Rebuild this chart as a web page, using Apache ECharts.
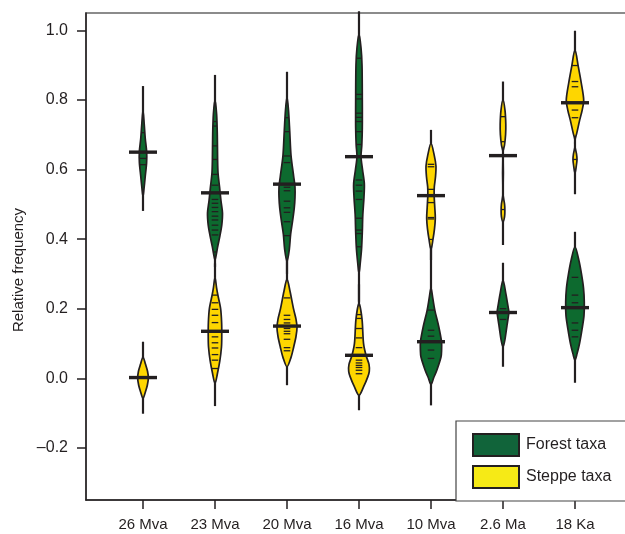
<!DOCTYPE html>
<html>
<head>
<meta charset="utf-8">
<script src="https://cdn.jsdelivr.net/npm/echarts@6/dist/echarts.min.js"></script>
<style>
  html, body { margin: 0; padding: 0; background: #fff; }
  #chart { width: 625px; height: 534px; }
</style>
</head>
<body>
<div id="chart"></div>
<script>
// categories and tick labels
const categories = ['26 Mva', '23 Mva', '20 Mva', '16 Mva', '10 Mva', '2.6 Ma', '18 Ka'];
const yTicks = [-0.2, 0, 0.2, 0.4, 0.6, 0.8, 1.0];

// medians (thick bars)
const forestMedian = [0.650, 0.533, 0.558, 0.637, 0.105, 0.189, 0.203];
const steppeMedian = [0.002, 0.135, 0.150, 0.066, 0.525, 0.640, 0.792];

// full range of each bean [min, max]
const forestRange = [[0.481, 0.840], [0.32, 0.872], [0.30, 0.881], [0.22, 1.055], [-0.078, 0.40], [0.033, 0.332], [-0.013, 0.421]];
const steppeRange = [[-0.102, 0.105], [-0.08, 0.33], [-0.02, 0.34], [-0.092, 0.27], [0.34, 0.714], [0.383, 0.853], [0.529, 0.999]];

// single observations (bean lines)
const forestObs = [
  [0.706, 0.632, 0.614],
  [0.738, 0.725, 0.668, 0.629, 0.586, 0.555, 0.514, 0.503, 0.491, 0.479, 0.466, 0.455, 0.440, 0.426, 0.412, 0.363],
  [0.749, 0.709, 0.639, 0.620, 0.549, 0.539, 0.509, 0.490, 0.477, 0.450, 0.410],
  [0.920, 0.816, 0.803, 0.762, 0.750, 0.738, 0.709, 0.672, 0.570, 0.555, 0.538, 0.514, 0.460, 0.426, 0.416, 0.378],
  [0.196, 0.138, 0.121, 0.081, 0.057],
  [0.200, 0.169],
  [0.290, 0.239, 0.217, 0.159, 0.138, 0.119]
];
const steppeObs = [
  [],
  [0.239, 0.217, 0.198, 0.181, 0.160, 0.119, 0.102, 0.087, 0.068, 0.052, 0.028],
  [0.231, 0.181, 0.169, 0.159, 0.143, 0.135, 0.128, 0.112, 0.088, 0.079],
  [0.183, 0.172, 0.143, 0.116, 0.088, 0.052, 0.044, 0.037, 0.031, 0.023, 0.013],
  [0.615, 0.608, 0.543, 0.505, 0.462, 0.458, 0.399],
  [0.752, 0.680, 0.485],
  [0.899, 0.853, 0.838, 0.771, 0.749, 0.629]
];

// bean outlines: [value, half width in category units]
const forestDensity = [
  [[0.771, 0], [0.73, 0.017], [0.69, 0.031], [0.65, 0.051], [0.62, 0.05], [0.58, 0.031], [0.545, 0.014], [0.522, 0]],
  [[0.80, 0], [0.76, 0.022], [0.70, 0.032], [0.63, 0.036], [0.59, 0.042], [0.55, 0.063], [0.51, 0.083], [0.475, 0.104], [0.44, 0.094], [0.41, 0.069], [0.38, 0.039], [0.355, 0.017], [0.34, 0]],
  [[0.81, 0], [0.77, 0.021], [0.71, 0.038], [0.64, 0.056], [0.58, 0.093], [0.55, 0.111], [0.52, 0.111], [0.49, 0.101], [0.45, 0.076], [0.415, 0.051], [0.37, 0.032], [0.335, 0]],
  [[0.99, 0], [0.95, 0.028], [0.90, 0.042], [0.80, 0.046], [0.72, 0.046], [0.67, 0.039], [0.637, 0.028], [0.60, 0.049], [0.56, 0.074], [0.52, 0.069], [0.47, 0.053], [0.42, 0.046], [0.37, 0.035], [0.33, 0.017], [0.30, 0]],
  [[0.26, 0], [0.23, 0.025], [0.196, 0.053], [0.148, 0.108], [0.105, 0.146], [0.08, 0.147], [0.061, 0.139], [0.023, 0.081], [0.0, 0.035], [-0.018, 0]],
  [[0.282, 0], [0.244, 0.039], [0.215, 0.063], [0.19, 0.081], [0.17, 0.069], [0.148, 0.053], [0.109, 0.025], [0.09, 0]],
  [[0.378, 0], [0.34, 0.053], [0.30, 0.09], [0.26, 0.118], [0.22, 0.129], [0.18, 0.125], [0.14, 0.097], [0.10, 0.063], [0.07, 0.028], [0.052, 0]]
];
const steppeDensity = [
  [[0.061, 0], [0.04, 0.035], [0.02, 0.063], [0.0, 0.074], [-0.02, 0.06], [-0.04, 0.032], [-0.058, 0]],
  [[0.29, 0], [0.26, 0.022], [0.24, 0.039], [0.20, 0.078], [0.16, 0.092], [0.12, 0.094], [0.09, 0.09], [0.05, 0.067], [0.015, 0.035], [-0.015, 0]],
  [[0.285, 0], [0.25, 0.042], [0.20, 0.09], [0.17, 0.125], [0.145, 0.139], [0.12, 0.125], [0.09, 0.093], [0.06, 0.056], [0.033, 0]],
  [[0.215, 0], [0.17, 0.042], [0.10, 0.063], [0.066, 0.097], [0.04, 0.139], [0.02, 0.143], [0.004, 0.122], [-0.025, 0.063], [-0.049, 0]],
  [[0.675, 0], [0.64, 0.046], [0.61, 0.069], [0.58, 0.063], [0.55, 0.046], [0.525, 0.044], [0.49, 0.053], [0.46, 0.06], [0.43, 0.049], [0.40, 0.028], [0.37, 0]],
  [[0.80, 0], [0.77, 0.028], [0.73, 0.039], [0.70, 0.036], [0.67, 0.021], [0.65, 0], [0.53, 0], [0.50, 0.022], [0.483, 0.026], [0.465, 0.022], [0.45, 0]],
  [[0.944, 0], [0.896, 0.046], [0.848, 0.088], [0.80, 0.121], [0.771, 0.1], [0.742, 0.065], [0.704, 0.024], [0.685, 0], [0.666, 0], [0.645, 0.021], [0.629, 0.028], [0.61, 0.018], [0.589, 0]]
];

const ink = '#231f20';
const font = 'Liberation Sans';
const forestFill = '#0d6a2f';
const steppeFill = '#fed600';

function widthAt(prof, v) {
  for (let k = 0; k < prof.length - 1; k++) {
    const a = prof[k], b = prof[k + 1];
    if (v <= a[0] && v >= b[0]) {
      const t = (a[0] - v) / (a[0] - b[0]);
      return a[1] + t * (b[1] - a[1]);
    }
  }
  return 0;
}

function beanRenderer(density, ranges, medians, obs, fill) {
  return function (params, api) {
    const i = params.dataIndex;
    const x = api.value(0);
    const prof = density[i];
    const right = prof.map(p => api.coord([x + p[1], p[0]]));
    const rev = prof.slice().reverse();
    const left = rev
      .filter((p, k) => !(p[1] === 0 && (k === 0 || k === rev.length - 1)))
      .map(p => api.coord([x - p[1], p[0]]));
    const top = api.coord([x, ranges[i][1]]);
    const bot = api.coord([x, ranges[i][0]]);
    const unit = api.size([1, 0])[0];
    const children = [
      { type: 'line', shape: { x1: top[0], y1: top[1], x2: bot[0], y2: bot[1] },
        style: { stroke: ink, lineWidth: 2.2 } },
      { type: 'polygon', shape: { points: right.concat(left), smooth: 0.3 },
        style: { fill: fill, stroke: ink, lineWidth: 1.7 } }
    ];
    obs[i].forEach(v => {
      const c = api.coord([x, v]);
      const hw = Math.max(1.5, Math.min(3.3, widthAt(prof, v) * unit));
      children.push({ type: 'line', shape: { x1: c[0] - hw, y1: c[1], x2: c[0] + hw, y2: c[1] },
        style: { stroke: ink, lineWidth: 1.3 } });
    });
    const m = api.coord([x, medians[i]]);
    children.push({ type: 'line', shape: { x1: m[0] - 14, y1: m[1], x2: m[0] + 14, y2: m[1] },
      style: { stroke: ink, lineWidth: 3.4 } });
    return { type: 'group', children: children };
  };
}

const chart = echarts.init(document.getElementById('chart'));
chart.setOption({
  animation: false,
  grid: { left: 86, top: 13, width: 545, height: 487, outerBoundsMode: 'none',
    show: true, borderColor: '#666', borderWidth: 1.5 },
  xAxis: {
    type: 'value', min: 0.2083, max: 7.778,
    splitLine: { show: false },
    axisLine: { show: true, onZero: false, lineStyle: { color: ink, width: 1.5 } },
    axisTick: { show: true, length: 9, lineStyle: { color: ink, width: 1.5 }, customValues: categories.map((c, i) => i + 1) },
    axisLabel: { customValues: categories.map((c, i) => i + 1), formatter: v => categories[Math.round(v) - 1],
      fontSize: 15, fontFamily: font, color: ink, margin: 17 }
  },
  yAxis: {
    type: 'value', min: -0.35, max: 1.05,
    splitLine: { show: false },
    axisLine: { show: true, onZero: false, lineStyle: { color: ink, width: 1.5 } },
    axisTick: { show: true, length: 9, lineStyle: { color: ink, width: 1.5 }, customValues: yTicks },
    axisLabel: { customValues: yTicks, formatter: v => v.toFixed(1).replace('-', '\u2013'),
      fontSize: 16, fontFamily: font, color: ink, margin: 18 }
  },
  legend: {
    left: 456, top: 421, orient: 'vertical', selectedMode: false,
    icon: 'rect', itemWidth: 46, itemHeight: 22, itemGap: 8,
    padding: [12, 10, 11, 16],
    textStyle: { fontSize: 16, fontFamily: font, color: ink, padding: [0, 0, 0, 2] },
    data: [
      { name: 'Forest taxa', itemStyle: { color: '#11643a', borderColor: ink, borderWidth: 2 } },
      { name: 'Steppe taxa', itemStyle: { color: '#f6ea16', borderColor: ink, borderWidth: 2 } }
    ]
  },
  graphic: [
    {
      // legend frame running off the right edge, as in the figure
      type: 'rect', z: 3, shape: { x: 456, y: 421, width: 200, height: 80 },
      style: { fill: '#fff', stroke: '#444', lineWidth: 1.2 }
    },
    {
      type: 'text', x: 19, y: 270, rotation: Math.PI / 2,
      style: { text: 'Relative frequency', font: '15px "Liberation Sans"', fill: ink, align: 'center', verticalAlign: 'middle' }
    }
  ],
  series: [
    {
      name: 'Forest taxa', type: 'custom', color: forestFill,
      encode: { x: 0, y: 1 },
      data: categories.map((c, i) => [i + 1, forestMedian[i]]),
      renderItem: beanRenderer(forestDensity, forestRange, forestMedian, forestObs, forestFill)
    },
    {
      name: 'Steppe taxa', type: 'custom', color: steppeFill,
      encode: { x: 0, y: 1 },
      data: categories.map((c, i) => [i + 1, steppeMedian[i]]),
      renderItem: beanRenderer(steppeDensity, steppeRange, steppeMedian, steppeObs, steppeFill)
    }
  ]
});
</script>
</body>
</html>
